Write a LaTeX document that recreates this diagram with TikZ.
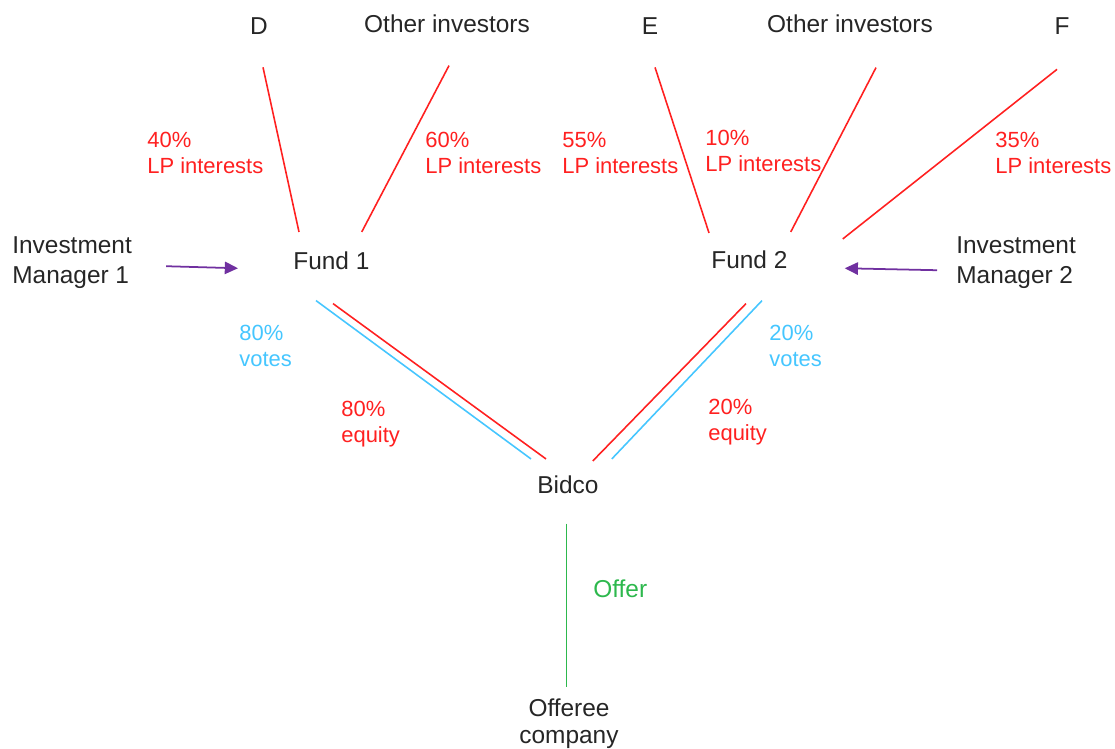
\documentclass[tikz,border=0pt]{standalone}
\usepackage{fontspec}
\setmainfont{Liberation Sans}
\usetikzlibrary{arrows.meta}
\definecolor{stakered}{HTML}{FF2020}
\definecolor{voteblue}{HTML}{45C6FF}
\definecolor{offergreen}{HTML}{2DB84D}
\definecolor{mgrpurple}{HTML}{7030A0}
\tikzset{
  party/.style={inner sep=0pt, font=\fontsize{13.9}{17}\selectfont, text=black!85},
  stake/.style={inner sep=0pt, align=left, anchor=north west, font=\fontsize{12.5}{14.7}\selectfont, text=stakered},
  votes/.style={stake, text=voteblue},
  offertext/.style={inner sep=0pt, anchor=north west, font=\fontsize{13.9}{17}\selectfont, text=offergreen},
  holding/.style={draw=stakered, line width=0.9pt},
  voting/.style={draw=voteblue, line width=0.9pt},
  offerline/.style={draw=offergreen, line width=0.9pt},
  manages/.style={draw=mgrpurple, line width=1pt, -{Triangle[length=7.5pt,width=7pt]}},
}
\begin{document}
\begin{tikzpicture}[x=0.02cm, y=-0.02cm]
\useasboundingbox (0,0) rectangle (1115,749);

% investors along the top
\node[party, anchor=base] (d)   at (259,35) {D};
\node[party, anchor=base] (oi1) at (447,33) {Other investors};
\node[party, anchor=base] (e)   at (650,35) {E};
\node[party, anchor=base] (oi2) at (850,33) {Other investors};
\node[party, anchor=base] (f)   at (1062,35) {F};

% funds and their managers
\node[party, anchor=base west] (fund1) at (293,270) {Fund 1};
\node[party, anchor=base west] (fund2) at (711,269) {Fund 2};
\node[party, align=left, anchor=north west] (im1) at (12,236) {Investment\\Manager 1};
\node[party, align=left, anchor=north west] (im2) at (956,236) {Investment\\Manager 2};

% bid vehicle and target
\node[party, anchor=base west] (bidco) at (537,493) {Bidco};
\node[party, align=center, anchor=north, font=\fontsize{13.9}{15.9}\selectfont] (offeree) at (569,698) {Offeree\\company};

% LP interests
\node[stake] (lpd)   at (147,132) {40\%\\LP interests};
\node[stake] (lpoi1) at (425,132) {60\%\\LP interests};
\node[stake] (lpe)   at (562,132) {55\%\\LP interests};
\node[stake] (lpoi2) at (705,130) {10\%\\LP interests};
\node[stake] (lpf)   at (995,132) {35\%\\LP interests};

% holdings in Bidco
\node[votes] (v1) at (239,325) {80\%\\votes};
\node[stake] (q1) at (341,401) {80\%\\equity};
\node[votes] (v2) at (769,325) {20\%\\votes};
\node[stake] (q2) at (708,399) {20\%\\equity};
\node[offertext] (offer) at (593,579) {Offer};

% investor lines into the funds
\draw[holding] ([shift={(4,32)}]d.south) -- ([shift={(6,-20)}]fund1.north west);
\draw[holding] ([shift={(2,32)}]oi1.south) -- ([shift={(-8,-20)}]fund1.north east);
\draw[holding] ([shift={(5,32)}]e.south) -- ([shift={(-2,-18)}]fund2.north west);
\draw[holding] ([shift={(26,34)}]oi2.south) -- ([shift={(3,-19)}]fund2.north east);
\draw[holding] ([shift={(-5,34)}]f.south) -- ([shift={(55,-12)}]fund2.north east);

% managers
\draw[manages] ([shift={(34,4)}]im1.east) -- ([shift={(-55,7)}]fund1.west);
\draw[manages] ([shift={(-19,8)}]im2.west) -- ([shift={(57,8)}]fund2.east);

% funds into Bidco: votes and equity
\draw[voting]  ([shift={(23,30)}]fund1.south west) -- ([shift={(-6,-16)}]bidco.north west);
\draw[holding] ([shift={(40,33)}]fund1.south west) -- ([shift={(9,-16)}]bidco.north west);
\draw[holding] ([shift={(35,34)}]fund2.south west) -- ([shift={(-6,-14)}]bidco.north east);
\draw[voting]  ([shift={(51,31)}]fund2.south west) -- ([shift={(13,-16)}]bidco.north east);

% the offer, straight down from Bidco
\coordinate (offertop) at ([shift={(-1.5,30)}]bidco.south);
\coordinate (offerfoot) at ([shift={(0,-11)}]offeree.north);
\draw[offerline] (offertop) -- (offertop |- offerfoot);
\end{tikzpicture}
\end{document}
